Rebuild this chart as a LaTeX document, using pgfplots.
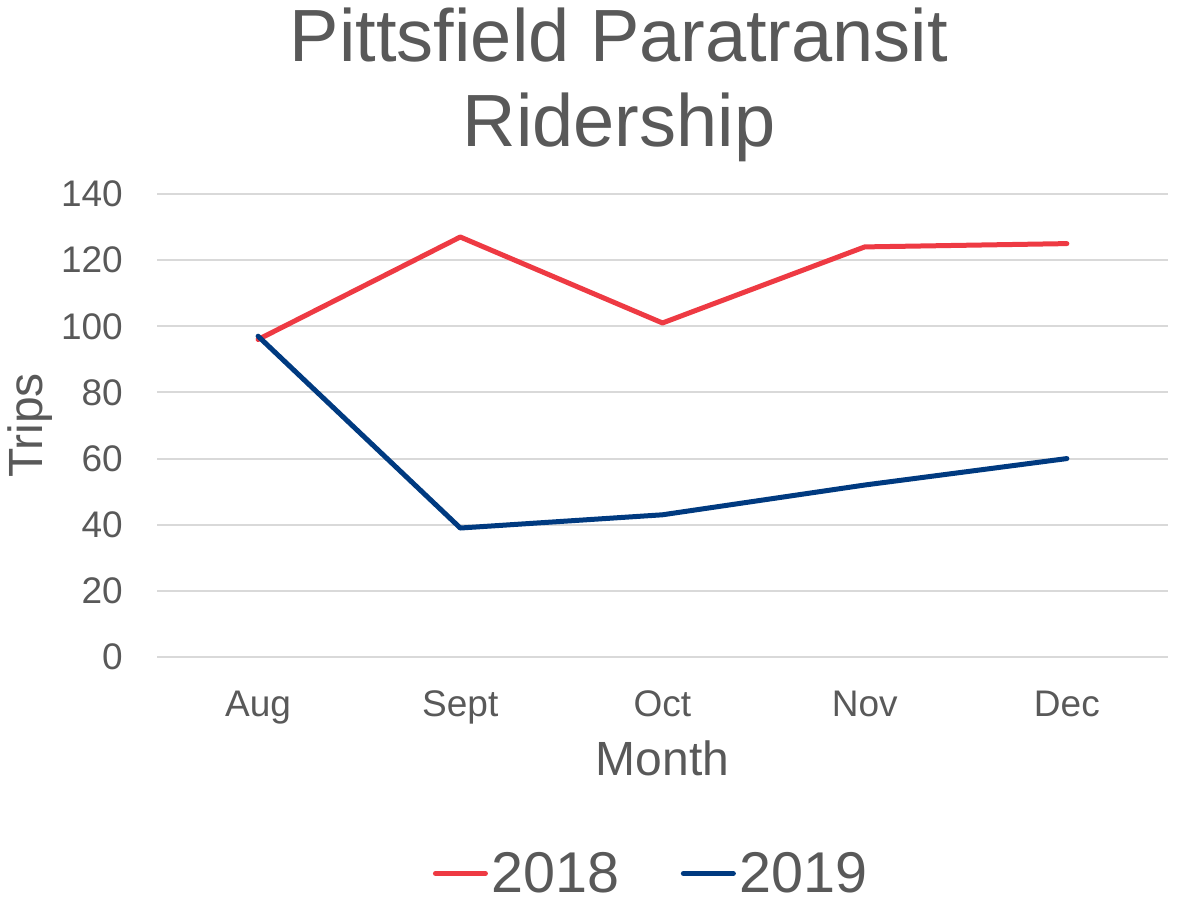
\documentclass[border=0pt]{standalone}
\usepackage{fontspec}
\setmainfont{Liberation Sans}
\usepackage{pgfplots}
\pgfplotsset{compat=1.18}
\definecolor{red18}{RGB}{238,58,67}
\definecolor{blue19}{RGB}{0,58,128}
\definecolor{txt}{RGB}{89,89,89}
\definecolor{gridc}{RGB}{217,217,217}
\begin{document}
\begin{tikzpicture}[x=1pt,y=1pt]
\useasboundingbox (0,0) rectangle (1178,903);
\begin{axis}[
  at={(157pt,246pt)}, anchor=south west,
  scale only axis, width=1011pt, height=463pt,
  xmin=-0.5, xmax=4.5, ymin=0, ymax=140,
  xtick={0,1,2,3,4}, xticklabels={Aug,Sept,Oct,Nov,Dec},
  ytick={0,20,...,140},
  ymajorgrids, grid style={draw=gridc, line width=2pt},
  axis line style={draw=none},
  major tick length=0pt,
  tick label style={font=\fontsize{37}{44}\selectfont, text=txt},
  /pgf/number format/assume math mode=true,
  yticklabel style={inner sep=0pt, anchor=east, xshift=-34pt},
  xticklabel style={inner sep=0pt, anchor=base, yshift=-59pt},
  xlabel={Month},
  xlabel style={font=\fontsize{48}{56}\selectfont, text=txt, inner sep=0pt, anchor=base, at={(axis description cs:0.5,-0.257)}},
  ylabel={Trips},
  ylabel style={font=\fontsize{48}{56}\selectfont, text=txt, inner sep=0pt, anchor=base, at={(axis description cs:-0.1128,0.5)}},
  title={Pittsfield Paratransit\\Ridership},
  title style={font=\fontsize{74}{85}\selectfont, text=txt, align=center, inner sep=0pt, anchor=north, at={(axis description cs:0.457,1.389)}},
  legend columns=2,
  legend cell align=left,
  legend style={at={(axis description cs:0.488,-0.4676)}, anchor=center, draw=none, fill=none,
    font=\fontsize{57.5}{66}\selectfont, text=txt, inner sep=0pt, nodes={inner sep=0pt},
    /tikz/every odd column/.append style={column sep=4pt},
    /tikz/every even column/.append style={column sep=61pt}},
  legend image code/.code={\draw[#1, line width=5pt, line cap=round] (2.5pt,0pt) -- (52.5pt,0pt);},
]
\addplot[red18, line width=5pt, line join=round, line cap=round] coordinates {(0,96) (1,127) (2,101) (3,124) (4,125)};
\addlegendentry{2018}
\addplot[blue19, line width=5pt, line join=round, line cap=round] coordinates {(0,97) (1,39) (2,43) (3,52) (4,60)};
\addlegendentry{2019}
\end{axis}
\end{tikzpicture}
\end{document}
